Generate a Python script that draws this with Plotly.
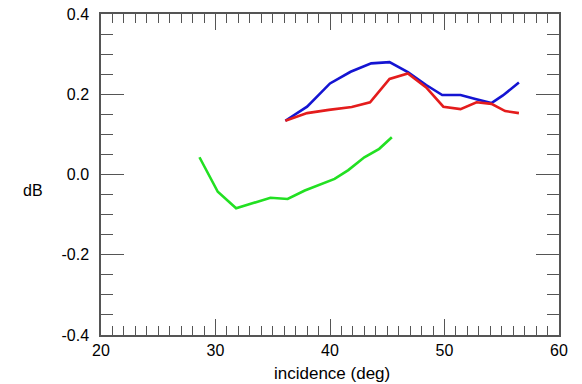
import plotly.graph_objects as go

# Incidence angle (deg) and dB values for each curve
green_x = [28.6, 30.2, 31.8, 34.8, 36.3, 37.8, 40.4, 41.6, 43.0, 44.3, 45.4]
green_y = [0.043, -0.043, -0.084, -0.058, -0.061, -0.040, -0.011, 0.011, 0.043, 0.064, 0.093]

blue_x = [36.1, 38.0, 40.0, 41.8, 43.6, 45.2, 46.8, 48.4, 49.8, 51.4, 52.7, 54.1, 55.1, 56.5]
blue_y = [0.134, 0.169, 0.227, 0.256, 0.277, 0.280, 0.255, 0.223, 0.198, 0.198, 0.188, 0.178, 0.197, 0.229]

red_x = [36.1, 38.0, 39.9, 41.9, 43.5, 45.2, 46.8, 48.4, 49.9, 51.4, 52.8, 54.1, 55.3, 56.5]
red_y = [0.134, 0.153, 0.161, 0.168, 0.180, 0.238, 0.252, 0.217, 0.169, 0.163, 0.180, 0.176, 0.158, 0.153]

x_ticks = [20, 30, 40, 50, 60]
x_labels = ["20", "30", "40", "50", "60"]
y_ticks = [-0.4, -0.2, 0.0, 0.2, 0.4]
y_labels = ["-0.4", "-0.2", "0.0", "0.2", "0.4"]

FONT = "Liberation Sans, Arial, Helvetica, sans-serif"
AXIS_COLOR = "#555555"
TEXT_COLOR = "#000000"

# plot-area geometry in pixels
W, H = 582, 384
L, R, T, B = 101, 23, 14, 49
PW, PH = W - L - R, H - T - B

fig = go.Figure()
for xs, ys, col in [(green_x, green_y, "#22e022"),
                    (blue_x, blue_y, "#1414d2"),
                    (red_x, red_y, "#e41c1c")]:
    fig.add_trace(go.Scatter(x=xs, y=ys, mode="lines",
                             line=dict(color=col, width=2.6),
                             showlegend=False, hoverinfo="skip"))

common = dict(showline=True, linecolor=AXIS_COLOR, linewidth=1.5,
              mirror="allticks", ticks="inside", tickcolor=AXIS_COLOR,
              tickwidth=1.3, showgrid=False, zeroline=False, automargin=False,
              tickfont=dict(family=FONT, size=16, color=TEXT_COLOR))

fig.update_xaxes(range=[20, 60], tickmode="array", tickvals=x_ticks,
                 ticktext=x_labels, ticklen=16,
                 minor=dict(dtick=1, ticklen=9, ticks="inside",
                            tickcolor=AXIS_COLOR, tickwidth=1.3, showgrid=False),
                 **common)
fig.update_yaxes(range=[-0.4, 0.4], tickmode="array", tickvals=y_ticks,
                 ticktext=y_labels, ticklen=23, ticklabelstandoff=7,
                 minor=dict(dtick=0.05, ticklen=12, ticks="inside",
                            tickcolor=AXIS_COLOR, tickwidth=1.3, showgrid=False),
                 **common)

# horizontal "dB" label left of the y axis
fig.add_annotation(text="dB", xref="paper", yref="paper",
                   x=(33 - L) / PW, y=(H - B - 191) / PH,
                   xanchor="center", yanchor="middle", showarrow=False,
                   font=dict(family=FONT, size=16, color=TEXT_COLOR))
# x-axis title below the tick labels
fig.add_annotation(text="incidence (deg)", xref="paper", yref="paper",
                   x=(332 - L) / PW, y=(H - B - 373) / PH,
                   xanchor="center", yanchor="middle", showarrow=False,
                   font=dict(family=FONT, size=17, color=TEXT_COLOR))

fig.update_layout(width=W, height=H,
                  margin=dict(l=L, r=R, t=T, b=B),
                  paper_bgcolor="white", plot_bgcolor="white")

fig.write_html("out.html")
